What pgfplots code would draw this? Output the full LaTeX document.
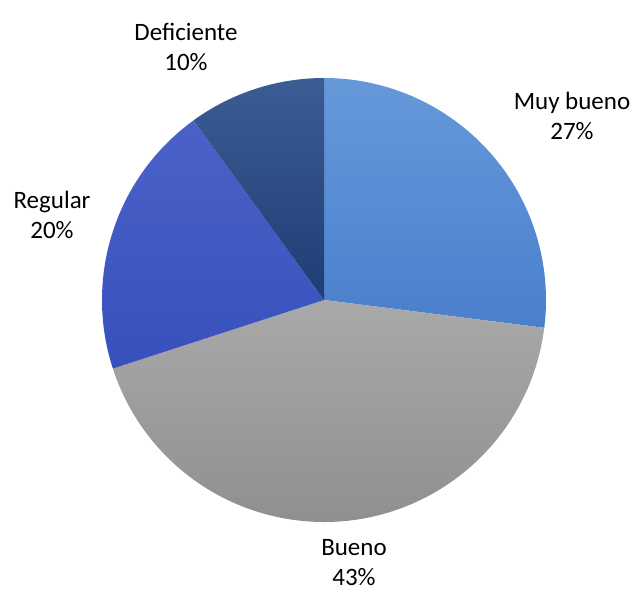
\documentclass[border=0pt]{standalone}
\usepackage{pgfplots}
\pgfplotsset{compat=1.18}
\usepackage{fontspec}
\setmainfont{Carlito}
\definecolor{muyA}{HTML}{6699DA}
\definecolor{muyB}{HTML}{4A7FCC}
\definecolor{buenoA}{HTML}{A9A9A9}
\definecolor{buenoB}{HTML}{8E8E8E}
\definecolor{regA}{HTML}{4A62C8}
\definecolor{regB}{HTML}{3850BC}
\definecolor{defA}{HTML}{3C5C94}
\definecolor{defB}{HTML}{1F3D75}
% Percentages: Muy bueno 27, Bueno 43, Regular 20, Deficiente 10
\begin{document}
\begin{tikzpicture}
\begin{axis}[x=1pt,y=1pt,xmin=-324,xmax=311,ymin=-292,ymax=300,
  hide axis,clip=false]
\path (axis cs:-324,-292) rectangle (axis cs:311,300);
\shade[top color=muyA,bottom color=muyB] (axis cs:0,0) -- ++(90:222pt) arc[start angle=90,end angle={90-3.6*27},radius=222pt] -- cycle;
\shade[top color=buenoA,bottom color=buenoB] (axis cs:0,0) -- ++({90-3.6*27}:222pt) arc[start angle={90-3.6*27},end angle={90-3.6*(27+43)},radius=222pt] -- cycle;
\shade[top color=regA,bottom color=regB] (axis cs:0,0) -- ++({90-3.6*70}:222pt) arc[start angle={90-3.6*70},end angle={90-3.6*(70+20)},radius=222pt] -- cycle;
\shade[top color=defA,bottom color=defB] (axis cs:0,0) -- ++({90-3.6*90}:222pt) arc[start angle={90-3.6*90},end angle={90-3.6*(90+10)},radius=222pt] -- cycle;
\node[align=center,inner sep=0pt,font=\fontsize{25}{30}\selectfont] at (axis cs:248,184) {Muy bueno\\27\%};
\node[align=center,inner sep=0pt,font=\fontsize{25}{30}\selectfont] at (axis cs:30,-263) {Bueno\\43\%};
\node[align=center,inner sep=0pt,font=\fontsize{25}{30}\selectfont] at (axis cs:-272,85) {Regular\\20\%};
\node[align=center,inner sep=0pt,font=\fontsize{25}{30}\selectfont] at (axis cs:-138,253) {Deficiente\\10\%};
\end{axis}
\end{tikzpicture}
\end{document}
